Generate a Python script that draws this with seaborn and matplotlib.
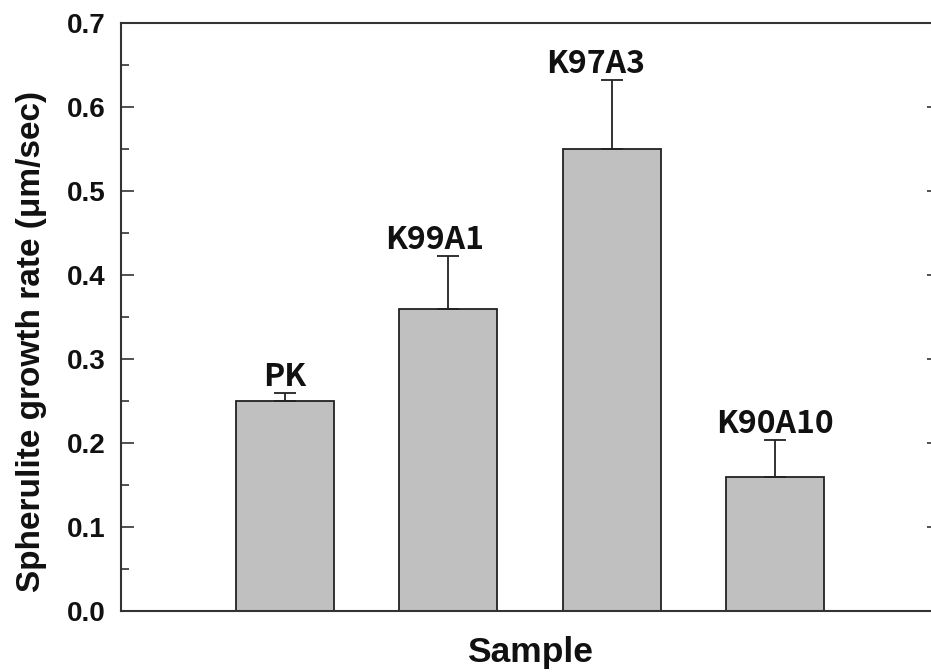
import matplotlib
matplotlib.use("Agg")
import matplotlib.pyplot as plt
from matplotlib.ticker import MultipleLocator, FormatStrFormatter
import seaborn as sns
import pandas as pd
import numpy as np

samples = ["PK", "K99A1", "K97A3", "K90A10"]
growth_rate = [0.25, 0.36, 0.55, 0.16]
rate_err = [0.01, 0.063, 0.082, 0.043]

# horizontal nudge of each sample label, in points
label_dx = [0, -10, -12, 0]

df = pd.DataFrame({"Sample": samples, "rate": growth_rate})

sns.set_theme(style="ticks")
plt.rcParams["font.family"] = ["Liberation Sans", "DejaVu Sans"]

fig = plt.figure(figsize=(9.31, 6.72), dpi=100)
ax = fig.add_axes([0.130, 0.0908, 0.8786, 0.875])

sns.barplot(data=df, x="Sample", y="rate", color="#c0c0c0", width=0.6,
            edgecolor="#222222", linewidth=1.3, errorbar=None, saturation=1, ax=ax)

xpos = np.arange(len(samples))
ax.errorbar(xpos, growth_rate, yerr=[np.zeros(len(samples)), rate_err], fmt="none",
            ecolor="#222222", elinewidth=1.3, capsize=8, capthick=1.3)

for x, v, e, name, dx in zip(xpos, growth_rate, rate_err, samples, label_dx):
    ax.annotate(name, (x, v + e), xytext=(dx, 0), textcoords="offset points",
                ha="center", va="bottom", fontsize=23, fontweight="bold",
                family=["Noto Sans CJK KR", "DejaVu Sans"], color="#111111")

ax.set_xlim(-1, 4)
ax.set_ylim(0, 0.7)
ax.yaxis.set_major_locator(MultipleLocator(0.1))
ax.yaxis.set_minor_locator(MultipleLocator(0.05))
ax.yaxis.set_major_formatter(FormatStrFormatter("%.1f"))
ax.set_xticks([])
ax.tick_params(axis="y", which="major", direction="in", length=9, width=1.2,
               right=True, labelsize=20, colors="#333333", labelcolor="#111111", pad=11)
ax.tick_params(axis="y", which="minor", direction="in", length=6, width=1.2,
               right=True, colors="#333333")
for lab in ax.get_yticklabels():
    lab.set_fontweight("bold")
for sp in ax.spines.values():
    sp.set_linewidth(1.5)
    sp.set_color("#333333")

ax.set_xlabel("Sample", fontsize=25.5, fontweight="bold", labelpad=18, color="#111111")
ax.set_ylabel("Spherulite growth rate (\u03bcm/sec)", fontsize=24, fontweight="bold",
              color="#111111")
ax.yaxis.set_label_coords(-0.091, 0.459)

fig.savefig("out.png", dpi=100)
